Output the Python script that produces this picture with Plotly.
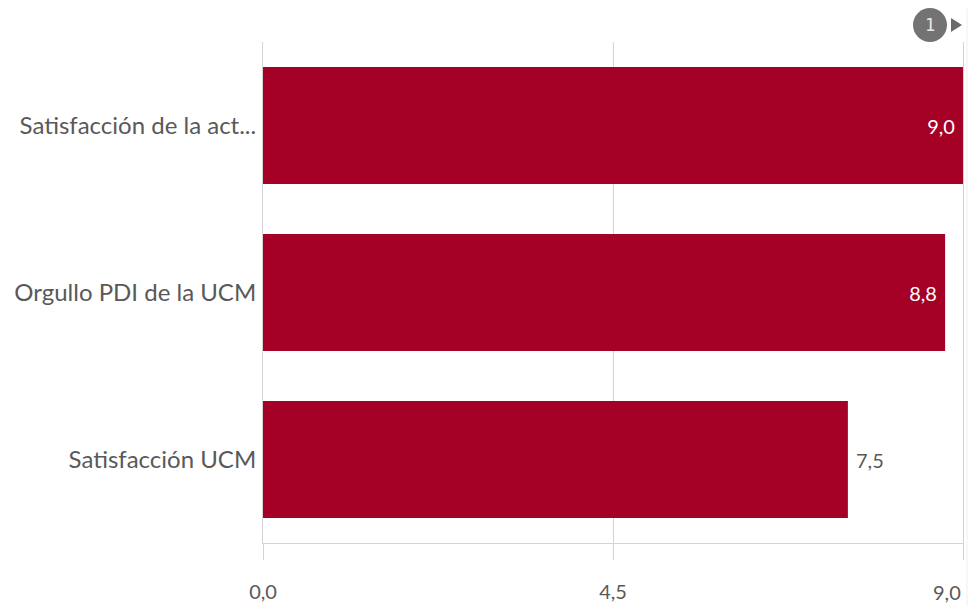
import plotly.graph_objects as go

categories = ["Satisfacción de la act...", "Orgullo PDI de la UCM", "Satisfacción UCM"]
values = [9.0, 8.77, 7.52]
tick_vals = [0, 4.5, 9.0]
tick_text = ["0,0", "4,5", "9,0"]

BAR = "#a50026"
GRID = "#d4d4d4"
TXT = "#595959"

NB = "\u00a0"
text_pos = ["inside" if v > 8 else "outside" for v in values]
labels = []
for v, p in zip(values, text_pos):
    s = f"{v:.1f}".replace(".", ",")
    labels.append(s + NB if p == "inside" else NB + s)

# page offset of the plotly div (default body margin) is 8px
W, H = 970, 598
L, R, T, B = 255, 15, 34, 63
PW, PH = W - L - R, H - T - B

def px(xp):  # page x -> paper
    return (xp - 8 - L) / PW

def py(yp):  # page y -> paper
    return (H - B - (yp - 8)) / PH

fig = go.Figure(go.Bar(
    x=values, y=categories, orientation="h",
    marker=dict(color=BAR, line=dict(width=0)),
    text=labels,
    textposition=text_pos,
    insidetextanchor="end",
    insidetextfont=dict(color="#ffffff", size=20, family="Lato, sans-serif"),
    outsidetextfont=dict(color=TXT, size=20, family="Lato, sans-serif"),
    cliponaxis=False,
    hoverinfo="skip",
))

shown_ticktext = tick_text[:-1] + [""]

fig.update_layout(
    width=W, height=H,
    margin=dict(l=L, r=R, t=T, b=B, autoexpand=False),
    paper_bgcolor="white", plot_bgcolor="white",
    bargap=0.3,
    showlegend=False,
    xaxis=dict(
        range=[0, 9.0], tickvals=tick_vals, ticktext=shown_ticktext,
        showgrid=True, gridcolor=GRID, gridwidth=1, zeroline=False,
        showline=True, linecolor=GRID, linewidth=1, mirror=False,
        ticks="outside", ticklen=16, tickcolor=GRID, tickwidth=1,
        ticklabelstandoff=15,
        tickfont=dict(color=TXT, size=20, family="Lato, sans-serif"),
        automargin=False,
        fixedrange=True,
    ),
    yaxis=dict(
        autorange="reversed", showgrid=False, zeroline=False,
        showline=True, mirror=True, linecolor=GRID, linewidth=1,
        ticks="", ticklabelstandoff=1,
        tickfont=dict(color=TXT, size=24, family="Lato, sans-serif"),
        automargin=False,
        fixedrange=True,
    ),
    shapes=[
        dict(type="circle", xref="paper", yref="paper",
             x0=px(913), x1=px(947), y0=py(42), y1=py(8),
             fillcolor="#737373", line=dict(width=0)),
        dict(type="path", xref="paper", yref="paper",
             path=f"M {px(951)},{py(18)} L {px(962)},{py(25)} L {px(951)},{py(32)} Z",
             fillcolor="#6b6b6b", line=dict(width=0)),
        dict(type="line", xref="paper", yref="paper",
             x0=px(967), x1=px(967), y0=py(606), y1=py(8),
             line=dict(color="#efefef", width=1)),
    ],
    annotations=[
        dict(text="1", xref="paper", yref="paper",
             x=px(930), y=py(25),
             showarrow=False, font=dict(color="#e8e8e8", size=17, family="DejaVu Sans Mono"),
             xanchor="center", yanchor="middle"),
        dict(text=tick_text[-1], xref="x", yref="paper",
             x=tick_vals[-1], y=py(592),
             showarrow=False, font=dict(color=TXT, size=20, family="Lato, sans-serif"),
             xanchor="right", yanchor="middle"),
    ],
)

fig.write_html("out.html")
